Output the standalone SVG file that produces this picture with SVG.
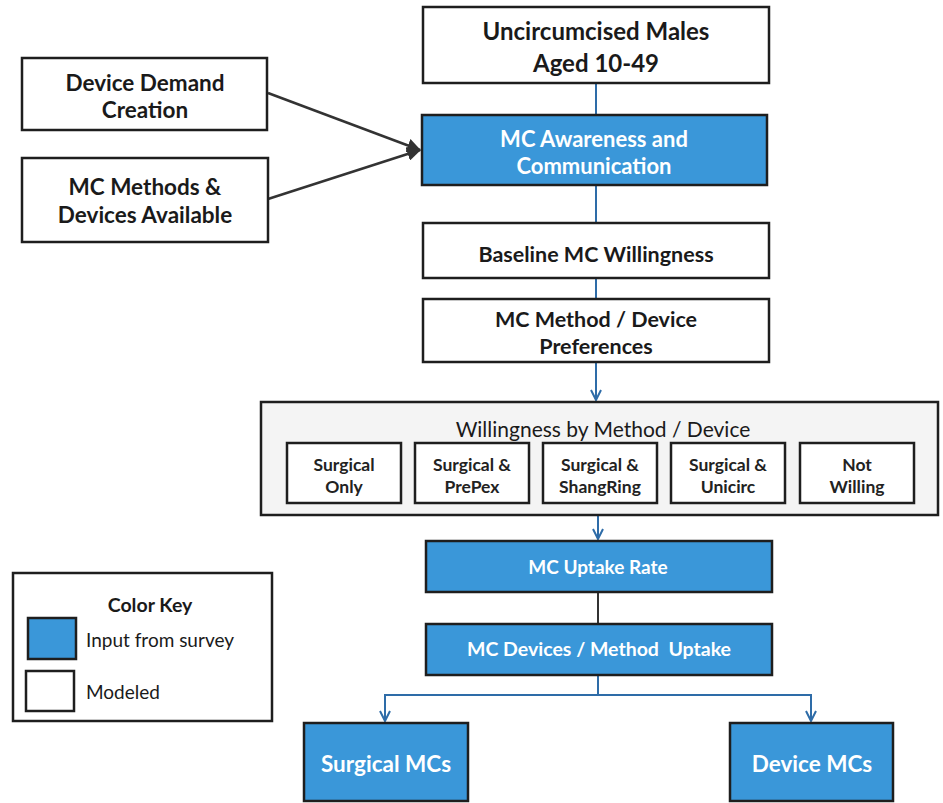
<svg xmlns="http://www.w3.org/2000/svg" width="943" height="803" viewBox="0 0 943 803">
<style>
.w{fill:#fff;stroke:#1e1e1e;stroke-width:2.5}
.b{fill:#3a97d9;stroke:#1e1e1e;stroke-width:2.5}
.t{font-family:Lato,"Liberation Sans",sans-serif;font-weight:bold;text-anchor:middle;fill:#1a1a1a}
.tw{font-family:Lato,"Liberation Sans",sans-serif;font-weight:bold;text-anchor:middle;fill:#fff}
.n{font-family:Lato,"Liberation Sans",sans-serif;fill:#1a1a1a}
.s{font-family:Lato,"Liberation Sans",sans-serif;font-weight:bold;font-size:17.5px;text-anchor:middle;fill:#222}
.cb{stroke:#2e6ca8;stroke-width:2;fill:none}
.cd{stroke:#333;stroke-width:2.5;fill:none}
</style>
<defs>
<marker id="ab" viewBox="0 0 12 12" refX="11" refY="6" markerWidth="12" markerHeight="12" markerUnits="userSpaceOnUse" orient="auto"><path d="M1,1 L11,6 L1,11" fill="none" stroke="#2e6ca8" stroke-width="2"/></marker>
<marker id="ad" viewBox="0 0 12 12" refX="11" refY="6" markerWidth="14" markerHeight="14" markerUnits="userSpaceOnUse" orient="auto"><path d="M0,0 L12,6 L0,12 Z" fill="#333"/></marker>
</defs>
<g id="connectors">
<line class="cb" x1="596" y1="83" x2="596" y2="115"/>
<line class="cb" x1="596" y1="185" x2="596" y2="223"/>
<line class="cb" x1="596" y1="278" x2="596" y2="299"/>
<line class="cb" x1="596" y1="362" x2="596" y2="400" marker-end="url(#ab)"/>
<line class="cb" x1="598" y1="515" x2="598" y2="539" marker-end="url(#ab)"/>
<line x1="598" y1="592" x2="598" y2="624" stroke="#333" stroke-width="2"/>
<path class="cb" d="M598,675 V695"/>
<path class="cb" d="M385,700 V695 H811 V700"/>
<line class="cb" x1="385" y1="695" x2="385" y2="721" marker-end="url(#ab)"/>
<line class="cb" x1="811" y1="695" x2="811" y2="721" marker-end="url(#ab)"/>
<line class="cd" x1="268" y1="93" x2="420" y2="150" marker-end="url(#ad)"/>
<line class="cd" x1="268" y1="199" x2="420" y2="150" marker-end="url(#ad)"/>
</g>
<g id="n-uncirc"><rect class="w" x="423" y="7" width="346" height="76"/>
<text class="t" font-size="24" x="596" y="40">Uncircumcised Males</text><text class="t" font-size="24" x="596" y="72">Aged 10-49</text></g>
<g id="n-demand"><rect class="w" x="22" y="58" width="245" height="72"/>
<text class="t" font-size="22.5" x="145" y="91">Device Demand</text><text class="t" font-size="22.5" x="145" y="118">Creation</text></g>
<g id="n-methods"><rect class="w" x="22" y="158" width="246" height="84"/>
<text class="t" font-size="22.5" x="145" y="195">MC Methods &amp;</text><text class="t" font-size="22.5" x="145" y="223">Devices Available</text></g>
<g id="n-awareness"><rect class="b" x="422" y="115" width="345" height="70"/>
<text class="tw" font-size="22" x="594" y="147">MC Awareness and</text><text class="tw" font-size="22" x="594" y="174">Communication</text></g>
<g id="n-baseline"><rect class="w" x="423" y="223" width="346" height="55"/>
<text class="t" font-size="21.5" x="596" y="262">Baseline MC Willingness</text></g>
<g id="n-pref"><rect class="w" x="423" y="299" width="346" height="63"/>
<text class="t" font-size="21.5" x="596" y="327">MC Method / Device</text><text class="t" font-size="21.5" x="596" y="354">Preferences</text></g>
<g id="n-willingness"><rect x="261" y="402" width="677" height="113" fill="#f4f4f4" stroke="#1e1e1e" stroke-width="2.5"/>
<text class="n" font-size="21" text-anchor="middle" x="603" y="437">Willingness by Method / Device</text>
<g id="n-surgonly"><rect class="w" x="287" y="443" width="114" height="60" stroke-width="2"/><text class="s" x="344" y="471">Surgical</text><text class="s" x="344" y="493">Only</text></g>
<g id="n-prepex"><rect class="w" x="415" y="443" width="114" height="60" stroke-width="2"/><text class="s" x="472" y="471">Surgical &amp;</text><text class="s" x="472" y="493">PrePex</text></g>
<g id="n-shangring"><rect class="w" x="543" y="443" width="114" height="60" stroke-width="2"/><text class="s" x="600" y="471">Surgical &amp;</text><text class="s" x="600" y="493">ShangRing</text></g>
<g id="n-unicirc"><rect class="w" x="671" y="443" width="114" height="60" stroke-width="2"/><text class="s" x="728" y="471">Surgical &amp;</text><text class="s" x="728" y="493">Unicirc</text></g>
<g id="n-notwilling"><rect class="w" x="800" y="443" width="114" height="60" stroke-width="2"/><text class="s" x="857" y="471">Not</text><text class="s" x="857" y="493">Willing</text></g>
</g>
<g id="n-uptake"><rect class="b" x="426" y="541" width="346" height="51"/>
<text class="tw" font-size="19" x="598" y="574">MC Uptake Rate</text></g>
<g id="n-devuptake"><rect class="b" x="426" y="624" width="346" height="51"/>
<text class="tw" font-size="19.5" x="599" y="656" xml:space="preserve">MC Devices / Method  Uptake</text></g>
<g id="n-surgical"><rect class="b" x="304" y="723" width="164" height="78"/>
<text class="tw" font-size="22.5" x="386" y="772">Surgical MCs</text></g>
<g id="n-device"><rect class="b" x="730" y="723" width="163" height="78"/>
<text class="tw" font-size="22.5" x="812" y="772">Device MCs</text></g>
<g id="legend"><rect x="13" y="573" width="259" height="148" fill="#fff" stroke="#1e1e1e" stroke-width="2.5"/>
<text class="t" font-size="19.5" x="150" y="612">Color Key</text>
<rect class="b" x="28" y="618" width="48" height="41"/>
<text class="n" font-size="19" x="86" y="647">Input from survey</text>
<rect class="w" x="26" y="671" width="48" height="40"/>
<text class="n" font-size="19" x="86" y="699">Modeled</text></g>
</svg>
